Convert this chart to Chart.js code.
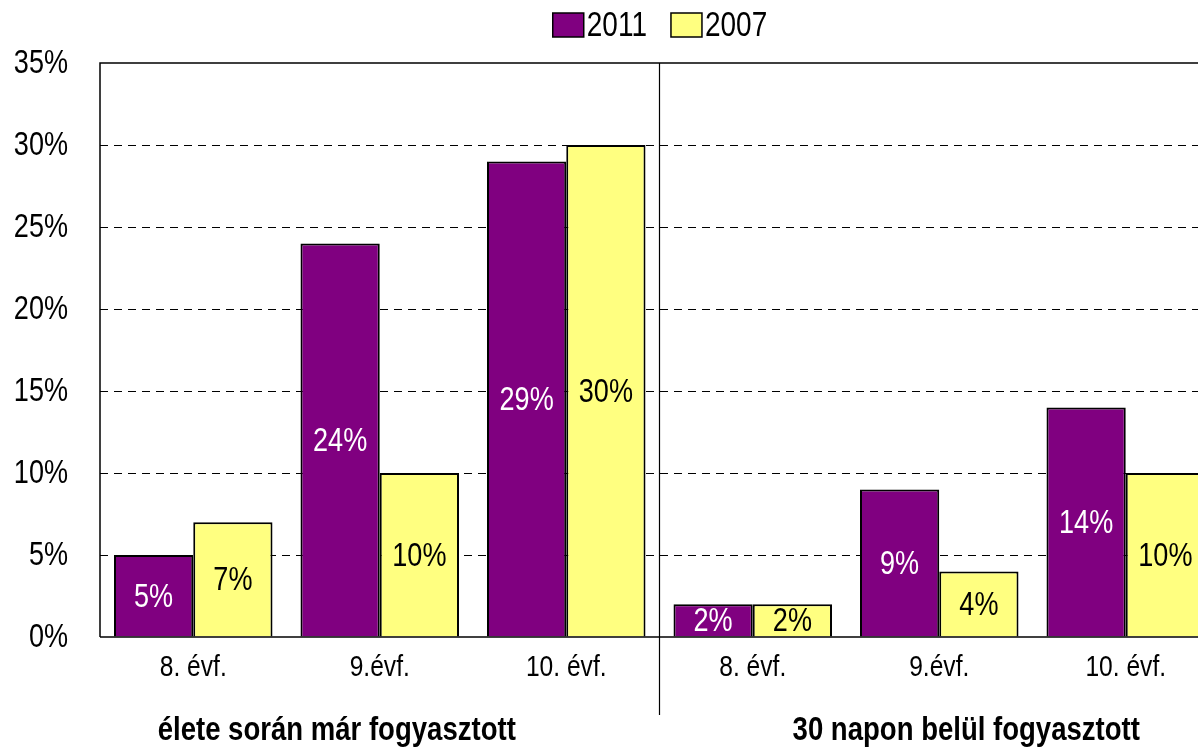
<!DOCTYPE html>
<html>
<head>
<meta charset="utf-8">
<script src="https://cdn.jsdelivr.net/npm/chart.js@4"></script>
<style>
  html, body { margin: 0; padding: 0; background: #fff; overflow: hidden; }
  .wrap { width: 1320px; height: 751px; }
</style>
</head>
<body>
<div class="wrap"><canvas id="myChart"></canvas></div>
<script>
const categories = ['8. évf.', '9.évf.', '10. évf.', '8. évf.', '9.évf.', '10. évf.'];
const groups = ['élete során már fogyasztott', '30 napon belül fogyasztott'];
const values2011 = [5, 24, 29, 2, 9, 14];
const values2007 = [7, 10, 30, 2, 4, 10];
const yTicks = [0, 5, 10, 15, 20, 25, 30, 35];

const FONT = "'Liberation Sans', Arial, sans-serif";
const SQUEEZE = 0.82; // the original uses a narrow face

function narrowText(c, text, x, y, font, align, color, sx) {
  c.save();
  c.font = font;
  c.fillStyle = color;
  c.textBaseline = 'middle';
  c.textAlign = align;
  c.translate(x, y);
  c.scale(sx || SQUEEZE, 1);
  c.fillText(text, 0, 0);
  c.restore();
}

const extras = {
  id: 'extras',
  afterDatasetsDraw(chart) {
    const c = chart.ctx;
    const area = chart.chartArea;
    const x = chart.scales.x;
    const y = chart.scales.y;
    c.save();
    // frame
    c.strokeStyle = '#000';
    c.lineWidth = 1.5;
    c.beginPath();
    c.moveTo(area.left, area.bottom);
    c.lineTo(area.left, area.top);
    c.lineTo(area.right, area.top);
    c.stroke();
    c.beginPath();
    c.moveTo(area.left, area.bottom);
    c.lineTo(area.right, area.bottom);
    c.stroke();
    // separator between the two groups
    const sep = (x.getPixelForValue(2) + x.getPixelForValue(3)) / 2;
    c.lineWidth = 1.2;
    c.beginPath();
    c.moveTo(sep, area.top);
    c.lineTo(sep, 715);
    c.stroke();
    c.restore();

    // y tick labels
    yTicks.forEach(v => {
      narrowText(c, v + '%', 68, y.getPixelForValue(v) + 1, '33px ' + FONT, 'right', '#000');
    });
    // x tick labels
    categories.forEach((lab, i) => {
      narrowText(c, lab, x.getPixelForValue(i), 668, '30px ' + FONT, 'center', '#000');
    });

    // values inside the bars
    chart.data.datasets.forEach((ds, i) => {
      const meta = chart.getDatasetMeta(i);
      meta.data.forEach((bar, j) => {
        narrowText(c, ds.data[j] + '%', bar.x, (bar.y + bar.base) / 2 + 2,
          '33px ' + FONT, 'center', i === 0 ? '#fff' : '#000');
      });
    });

    // group titles
    narrowText(c, groups[0], x.getPixelForValue(1) - 43, 731, 'bold 34px ' + FONT, 'center', '#000', 0.81);
    narrowText(c, groups[1], x.getPixelForValue(4) + 27, 731, 'bold 34px ' + FONT, 'center', '#000', 0.81);

    // legend
    c.save();
    c.font = '35px ' + FONT;
    const items = chart.data.datasets.map(ds => ({
      ds, w: c.measureText(ds.label).width * 0.8
    }));
    const total = items.reduce((s, it) => s + 31 + 3 + it.w, 0) + 24 * (items.length - 1);
    let lx = chart.width / 2 - total / 2;
    items.forEach(it => {
      c.fillStyle = it.ds.backgroundColor;
      c.fillRect(lx, 13, 31, 24);
      c.strokeStyle = '#000';
      c.lineWidth = 1.5;
      c.strokeRect(lx, 13, 31, 24);
      c.restore();
      narrowText(c, it.ds.label, lx + 34, 26, '35px ' + FONT, 'left', '#000', 0.8);
      c.save();
      lx += 31 + 3 + it.w + 24;
    });
    c.restore();
  }
};

new Chart(document.getElementById('myChart'), {
  type: 'bar',
  data: {
    labels: categories,
    datasets: [
      {
        label: '2011',
        data: values2011,
        backgroundColor: '#800080',
        borderColor: '#000',
        borderWidth: 2
      },
      {
        label: '2007',
        data: values2007,
        backgroundColor: '#FFFF80',
        borderColor: '#000',
        borderWidth: 2
      }
    ]
  },
  options: {
    responsive: true,
    maintainAspectRatio: false,
    animation: false,
    layout: { padding: { top: 63, bottom: 0, left: 0, right: 0 } },
    datasets: {
      bar: { categoryPercentage: 0.85, barPercentage: 1.0, borderSkipped: 'bottom' }
    },
    scales: {
      x: {
        grid: { display: false, drawTicks: false },
        border: { display: false },
        ticks: { display: false, autoSkip: false },
        afterFit: (s) => { s.height = 114; }
      },
      y: {
        min: 0,
        max: 35,
        afterBuildTicks: (s) => { s.ticks = yTicks.map(v => ({ value: v })); },
        grid: {
          drawTicks: false,
          color: (ctx) => (ctx.tick && (ctx.tick.value === 0 || ctx.tick.value === 35)) ? 'rgba(0,0,0,0)' : '#000',
          lineWidth: 1
        },
        border: { display: false, dash: [8, 6] },
        ticks: { display: false },
        afterFit: (s) => { s.width = 100; }
      },
      y2: {
        position: 'right',
        display: true,
        grid: { display: false, drawTicks: false },
        border: { display: false },
        ticks: { display: false },
        afterFit: (s) => { s.width = 101; }
      }
    },
    plugins: {
      legend: { display: false },
      tooltip: { enabled: false }
    }
  },
  plugins: [extras]
});
</script>
</body>
</html>
